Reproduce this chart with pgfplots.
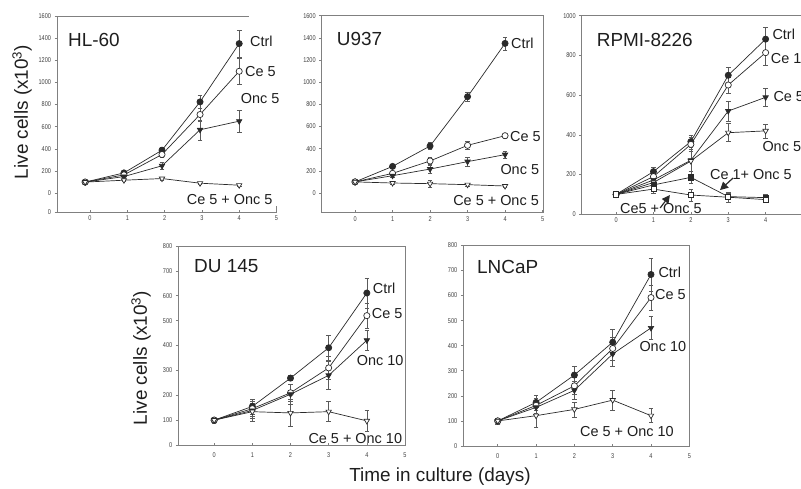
\documentclass[border=0pt]{standalone}
\usepackage{fontspec}
\setmainfont{Liberation Sans}
\newfontfamily\narrow{Liberation Sans}[FakeStretch=0.8]
\usepackage{pgfplots}
\pgfplotsset{compat=1.18}
\usetikzlibrary{arrows.meta}
\definecolor{ln}{HTML}{2A2A2A}
\definecolor{ax}{HTML}{808080}
\definecolor{eb}{HTML}{5A5A5A}
\definecolor{tx}{HTML}{1E1E1E}

\pgfplotsset{
  panel/.style={scale only axis, anchor=south west, clip=false,
    axis line style={ax, line width=0.8pt},
    tick style={ax, line width=0.6pt}, major tick length=2.5bp,
    tick pos=left, xtick align=inside, ytick align=outside,
    ticklabel style={font=\narrow\fontsize{7}{8}\selectfont, text=tx!85},
    /pgf/number format/assume math mode=true,
    /pgf/number format/1000 sep={},
    xtick={0,...,5}},
  ser/.style={color=ln, line width=0.7pt, mark size=3.1bp,
    error bars/y dir=both, error bars/y explicit,
    error bars/error bar style={eb, line width=0.5pt},
    error bars/error mark options={eb, rotate=90, mark size=2.3bp, line width=0.5pt}},
  sCtrl/.style={ser, mark=*, mark options={fill=ln, draw=ln}},
  sOpen/.style={ser, mark=*, mark options={fill=white, draw=ln}},
  sTri/.style={ser, mark=triangle*, mark options={rotate=180, fill=ln, draw=ln}},
  sTriO/.style={ser, mark=triangle*, mark options={rotate=180, fill=white, draw=ln}},
  sSq/.style={ser, mark=square*, mark size=2.6bp, mark options={fill=ln, draw=ln}},
  sSqO/.style={ser, mark=square*, mark size=2.6bp, mark options={fill=white, draw=ln}},
}
\tikzset{
  ttl/.style={anchor=base west, inner sep=0pt, text=tx, font=\fontsize{19}{21}\selectfont},
  lab/.style={anchor=base west, inner sep=0pt, text=tx, font=\fontsize{14.5}{16}\selectfont},
}

\begin{document}
\begin{tikzpicture}
\useasboundingbox (0,0) rectangle (801bp,-489bp);

% HL-60
\begin{axis}[panel, at={(57bp,-212bp)}, width=219.5bp, height=196.1bp,
  xmin=-0.885, xmax=5, ymin=-170, ymax=1600, ytick={0,200,...,1600},
  extra y ticks={-170}, extra y tick labels={0},
  axis x line*=bottom, axis y line*=left]
\addplot[sCtrl] coordinates {(-0.13,100) +- (0,12) (0.91,183) +- (0,15) (1.93,388) +- (0,25) (2.95,824) +- (0,60) (4.0,1350) +- (0,120)};
\addplot[sOpen] coordinates {(-0.13,100) +- (0,12) (0.91,165) +- (0,15) (1.93,349) +- (0,25) (2.95,710) +- (0,60) (4.0,1100) +- (0,115)};
\addplot[sTri] coordinates {(-0.13,100) +- (0,12) (0.91,150) +- (0,15) (1.93,247) +- (0,30) (2.95,572) +- (0,90) (4.0,650) +- (0,100)};
\addplot[sTriO] coordinates {(-0.13,100) +- (0,10) (0.91,117) +- (0,12) (1.93,132) +- (0,15) (2.95,90) +- (0,10) (4.0,72) +- (0,10)};
\draw[ax, line width=0.8pt] (axis cs:-0.885,1600) -- (axis cs:4.26,1600);
\draw[ax, line width=0.8pt] (axis cs:5,-170) -- (axis cs:5,-115);
\end{axis}

% U937
\begin{axis}[panel, at={(321.7bp,-212.7bp)}, width=221.6bp, height=197bp,
  xmin=-0.89, xmax=5.02, ymin=-178, ymax=1600, ytick={0,200,...,1600}]
\addplot[sCtrl] coordinates {(0,100) +- (0,12) (1,240) +- (0,15) (2,424) +- (0,30) (3,869) +- (0,40) (4,1350) +- (0,60)};
\addplot[sOpen] coordinates {(0,100) +- (0,12) (1,177) +- (0,15) (2,289) +- (0,30) (3,430) +- (0,35) (4,517) +- (0,25)};
\addplot[sTri] coordinates {(0,100) +- (0,12) (1,156) +- (0,15) (2,216) +- (0,35) (3,283) +- (0,40) (4,346) +- (0,35)};
\addplot[sTriO] coordinates {(0,100) +- (0,10) (1,90) +- (0,12) (2,84) +- (0,30) (3,75) +- (0,12) (4,63) +- (0,8)};
\end{axis}

% RPMI-8226
\begin{axis}[panel, at={(581.7bp,-214.3bp)}, width=221.3bp, height=198.6bp,
  xmin=-0.92, xmax=5, ymin=0, ymax=1000, ytick={0,200,...,1000}]
\addplot[sCtrl] coordinates {(0,100) +- (0,12) (1,215) +- (0,20) (2,366) +- (0,30) (3,700) +- (0,40) (4,882) +- (0,60)};
\addplot[sOpen] coordinates {(0,100) +- (0,12) (1,190) +- (0,20) (2,352) +- (0,35) (3,651) +- (0,40) (4,814) +- (0,65)};
\addplot[sTri] coordinates {(0,100) +- (0,12) (1,173) +- (0,20) (2,272) +- (0,55) (3,520) +- (0,50) (4,589) +- (0,45)};
\addplot[sTriO] coordinates {(0,100) +- (0,12) (1,160) +- (0,20) (2,268) +- (0,50) (3,411) +- (0,45) (4,420) +- (0,35)};
\addplot[sSq] coordinates {(0,100) +- (0,12) (1,148) +- (0,20) (2,186) +- (0,30) (3,89) +- (0,15) (4,84) +- (0,15)};
\addplot[sSqO] coordinates {(0,100) +- (0,12) (1,127) +- (0,20) (2,97) +- (0,30) (3,86) +- (0,25) (4,74) +- (0,15)};
\draw[-{Triangle[length=8bp,width=8bp]}, ln, line width=1.2pt] (axis cs:3.13,183) -- (axis cs:2.78,122);
\draw[-{Triangle[length=8bp,width=8bp]}, ln, line width=1.2pt] (axis cs:1.18,32) -- (axis cs:1.44,97);
\end{axis}

% DU 145
\begin{axis}[panel, at={(178.3bp,-445bp)}, width=226.7bp, height=199bp,
  xmin=-0.94, xmax=5, ymin=0, ymax=800, ytick={0,100,...,800},
  xticklabel style={yshift=-4bp}]
\addplot[sCtrl] coordinates {(0,100) +- (0,12) (1,155) +- (0,30) (2,269) +- (0,10) (3,391) +- (0,50) (4,611) +- (0,60)};
\addplot[sOpen] coordinates {(0,100) +- (0,12) (1,146) +- (0,30) (2,210) +- (0,35) (3,310) +- (0,45) (4,520) +- (0,50)};
\addplot[sTri] coordinates {(0,100) +- (0,12) (1,139) +- (0,30) (2,204) +- (0,40) (3,280) +- (0,55) (4,421) +- (0,40)};
\addplot[sTriO] coordinates {(0,100) +- (0,12) (1,134) +- (0,40) (2,129) +- (0,55) (3,134) +- (0,40) (4,97) +- (0,43)};
\end{axis}

% LNCaP
\begin{axis}[panel, at={(463.3bp,-446bp)}, width=226bp, height=200.6bp,
  xmin=-0.9, xmax=5, ymin=0, ymax=800, ytick={0,100,...,800},
  xticklabel style={yshift=-4bp}]
\addplot[sCtrl] coordinates {(0,100) +- (0,12) (1,174) +- (0,30) (2,283) +- (0,35) (3,414) +- (0,50) (4,684) +- (0,65)};
\addplot[sOpen] coordinates {(0,100) +- (0,12) (1,162) +- (0,30) (2,240) +- (0,35) (3,389) +- (0,45) (4,592) +- (0,50)};
\addplot[sTri] coordinates {(0,100) +- (0,12) (1,154) +- (0,30) (2,222) +- (0,35) (3,367) +- (0,50) (4,471) +- (0,45)};
\addplot[sTriO] coordinates {(0,100) +- (0,12) (1,121) +- (0,45) (2,146) +- (0,30) (3,183) +- (0,40) (4,121) +- (0,28)};
\end{axis}

% titles
\node[ttl] at (68bp,-46bp) {HL-60};
\node[ttl] at (336.7bp,-45.5bp) {U937};
\node[ttl] at (596.7bp,-46bp) {RPMI-8226};
\node[ttl] at (194bp,-272.7bp) {DU 145};
\node[ttl] at (477bp,-273bp) {LNCaP};

% curve labels
\node[lab] at (250bp,-46bp) {Ctrl};
\node[lab] at (245bp,-76bp) {Ce 5};
\node[lab] at (240.7bp,-103bp) {Onc 5};
\node[lab] at (186.7bp,-204bp) {Ce 5 + Onc 5};

\node[lab] at (511bp,-48.3bp) {Ctrl};
\node[lab] at (510bp,-141.5bp) {Ce 5};
\node[lab] at (500.3bp,-174.5bp) {Onc 5};
\node[lab, anchor=base east] at (539bp,-205bp) {Ce 5 + Onc 5};

\node[lab] at (772.3bp,-39.3bp) {Ctrl};
\node[lab] at (770.7bp,-63.3bp) {Ce 1};
\node[lab] at (773.3bp,-101.7bp) {Ce 5};
\node[lab] at (762.3bp,-151bp) {Onc 5};
\node[lab] at (710bp,-179.3bp) {Ce 1+ Onc 5};
\node[lab] at (620bp,-213.3bp) {Ce5 + Onc 5};

\node[lab] at (372.7bp,-293.3bp) {Ctrl};
\node[lab] at (371.7bp,-318.3bp) {Ce 5};
\node[lab] at (356.7bp,-365bp) {Onc 10};
\node[lab] at (308.3bp,-443.3bp) {Ce 5 + Onc 10};

\node[lab] at (658.3bp,-277.3bp) {Ctrl};
\node[lab] at (655bp,-299.3bp) {Ce 5};
\node[lab] at (639.3bp,-351bp) {Onc 10};
\node[lab] at (580bp,-436bp) {Ce 5 + Onc 10};

% axis titles
\node[rotate=90, inner sep=0pt, text=tx, font=\fontsize{19}{21}\selectfont] at (22bp,-112bp) {Live cells (x10\textsuperscript{3})};
\node[rotate=90, inner sep=0pt, text=tx, font=\fontsize{19}{21}\selectfont] at (141bp,-358bp) {Live cells (x10\textsuperscript{3})};
\node[anchor=base, inner sep=0pt, text=tx, font=\fontsize{19}{21}\selectfont] at (440bp,-481.5bp) {Time in culture (days)};
\end{tikzpicture}
\end{document}
